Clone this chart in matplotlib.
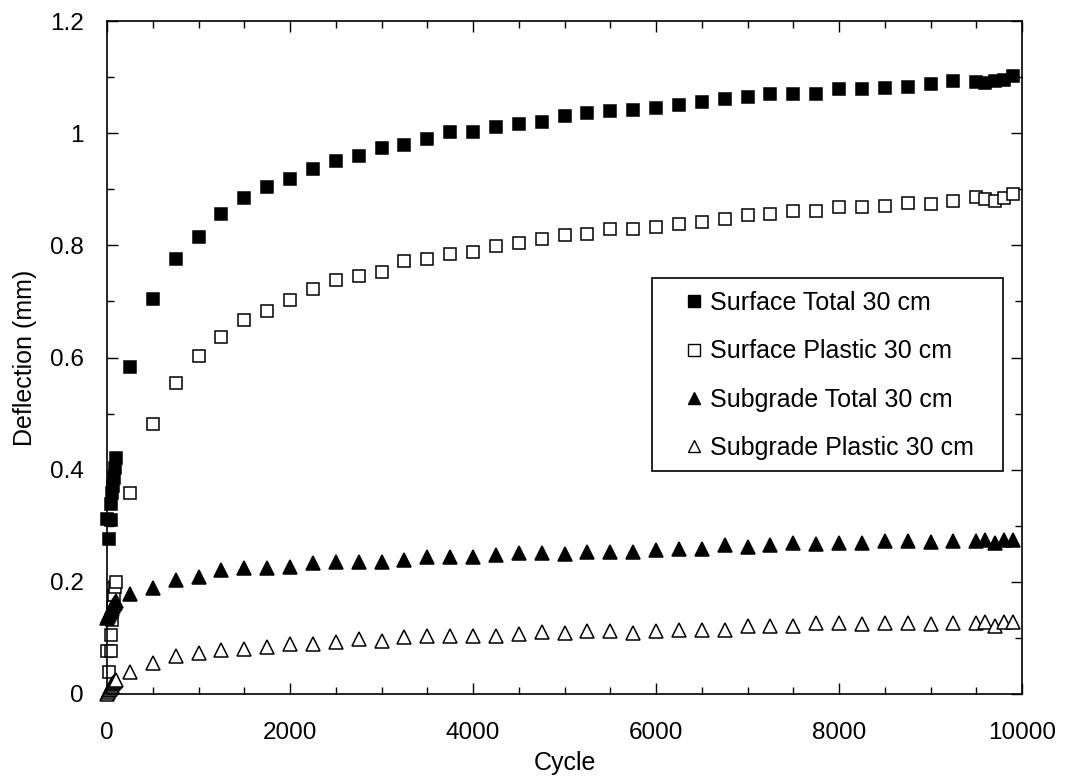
import matplotlib
matplotlib.use("Agg")
import matplotlib.pyplot as plt
from matplotlib.patches import Rectangle
from matplotlib.ticker import MultipleLocator

plt.rcParams['font.family'] = ['Liberation Sans', 'DejaVu Sans']

# ---- data ----
cycles_main = [250, 500, 750, 1000, 1250, 1500, 1750, 2000, 2250, 2500, 2750, 3000,
               3250, 3500, 3750, 4000, 4250, 4500, 4750, 5000, 5250, 5500, 5750, 6000,
               6250, 6500, 6750, 7000, 7250, 7500, 7750, 8000, 8250, 8500, 8750, 9000,
               9250, 9500, 9600, 9700, 9800, 9900]

st_early_cycles = [1, 25, 40, 45, 55, 65, 75, 85, 100]
st_early = [0.312, 0.276, 0.311, 0.339, 0.358, 0.370, 0.385, 0.403, 0.421]
surface_total = [0.583, 0.704, 0.775, 0.815, 0.855, 0.884, 0.904, 0.918, 0.936, 0.950,
                 0.959, 0.973, 0.979, 0.990, 1.002, 1.002, 1.011, 1.017, 1.020, 1.031,
                 1.036, 1.039, 1.042, 1.045, 1.051, 1.056, 1.061, 1.065, 1.070, 1.070,
                 1.070, 1.079, 1.079, 1.080, 1.083, 1.088, 1.093, 1.092, 1.090, 1.093,
                 1.095, 1.102]

sp_early_cycles = [1, 20, 40, 45, 55, 65, 75, 90, 100]
sp_early = [0.077, 0.040, 0.077, 0.105, 0.132, 0.155, 0.177, 0.190, 0.199]
surface_plastic = [0.359, 0.482, 0.554, 0.602, 0.637, 0.666, 0.683, 0.703, 0.723, 0.738,
                   0.746, 0.752, 0.772, 0.775, 0.784, 0.789, 0.798, 0.804, 0.812, 0.818,
                   0.821, 0.830, 0.830, 0.833, 0.838, 0.841, 0.847, 0.854, 0.856, 0.862,
                   0.862, 0.868, 0.868, 0.871, 0.876, 0.873, 0.879, 0.886, 0.882, 0.879,
                   0.884, 0.892]

sub_early_cycles = [1, 10, 20, 30, 40, 50, 60, 70, 80, 90, 100]
sbt_early = [0.136, 0.139, 0.143, 0.146, 0.148, 0.152, 0.155, 0.157, 0.160, 0.163, 0.166]
subgrade_total = [0.179, 0.189, 0.204, 0.209, 0.221, 0.224, 0.224, 0.227, 0.233, 0.236,
                  0.236, 0.236, 0.239, 0.245, 0.245, 0.245, 0.248, 0.251, 0.251, 0.250,
                  0.253, 0.253, 0.253, 0.256, 0.259, 0.259, 0.265, 0.262, 0.265, 0.269,
                  0.268, 0.269, 0.269, 0.272, 0.272, 0.271, 0.273, 0.273, 0.274, 0.270,
                  0.274, 0.275]

sbp_early = [0.000, 0.004, 0.007, 0.009, 0.012, 0.014, 0.017, 0.019, 0.021, 0.023, 0.025]
subgrade_plastic = [0.040, 0.055, 0.067, 0.073, 0.079, 0.080, 0.084, 0.090, 0.089, 0.093,
                    0.098, 0.095, 0.102, 0.104, 0.104, 0.104, 0.104, 0.107, 0.110, 0.109,
                    0.112, 0.112, 0.109, 0.112, 0.115, 0.115, 0.115, 0.121, 0.121, 0.121,
                    0.127, 0.127, 0.124, 0.127, 0.127, 0.124, 0.127, 0.126, 0.129, 0.121,
                    0.129, 0.128]

labels = ["Surface Total 30 cm", "Surface Plastic 30 cm",
          "Subgrade Total 30 cm", "Subgrade Plastic 30 cm"]

# ---- figure ----
fig = plt.figure(figsize=(10.85, 7.78), dpi=100)
ax = fig.add_axes([107/1085, 1 - 694/778, (1022 - 107)/1085, (694 - 21)/778])

series = [
    (st_early_cycles + cycles_main, st_early + surface_total, 's', 'black', 9.3),
    (sp_early_cycles + cycles_main, sp_early + surface_plastic, 's', 'white', 9.0),
    (sub_early_cycles + cycles_main, sbt_early + subgrade_total, '^', 'black', 10.0),
    (sub_early_cycles + cycles_main, sbp_early + subgrade_plastic, '^', 'white', 10.0),
]
handles = []
for (x, y, m, fc, ms), lab in zip(series, labels):
    h, = ax.plot(x, y, linestyle='none', marker=m, markersize=ms,
                 markerfacecolor=fc, markeredgecolor='black', markeredgewidth=1.1,
                 clip_on=False, label=lab)
    handles.append(h)

ax.set_xlim(0, 10000)
ax.set_ylim(0, 1.2)
ax.xaxis.set_major_locator(MultipleLocator(2000))
ax.xaxis.set_minor_locator(MultipleLocator(500))
ax.set_yticks([0, 0.2, 0.4, 0.6, 0.8, 1.0, 1.2])
ax.set_yticklabels(['0', '0.2', '0.4', '0.6', '0.8', '1', '1.2'])
ax.yaxis.set_minor_locator(MultipleLocator(0.1))

ax.tick_params(which='both', direction='in', top=True, right=True,
               width=1.0, labelsize=17.5, colors='black')
ax.tick_params(axis='x', which='major', length=8, pad=20)
ax.tick_params(axis='y', which='major', length=8, pad=17)
ax.tick_params(which='minor', length=5)
for s in ax.spines.values():
    s.set_linewidth(1.2)

ax.set_xlabel('Cycle', fontsize=18, labelpad=5)
ax.set_ylabel('Deflection (mm)', fontsize=18, labelpad=9)

# legend box (drawn manually to match padding)
ax.add_patch(Rectangle((0.5956, 0.3314), 0.9787 - 0.5956, 0.6181 - 0.3314,
                       transform=ax.transAxes, facecolor='white', edgecolor='black',
                       linewidth=1.2, zorder=4))
leg = ax.legend(handles=[plt.Line2D([], [], linestyle='none', marker=h.get_marker(),
                                    markersize=h.get_markersize() * 0.9,
                                    markerfacecolor=h.get_markerfacecolor(),
                                    markeredgecolor='black', markeredgewidth=1.0)
                         for h in handles],
                labels=labels, loc='upper left', bbox_to_anchor=(0.629, 0.5987),
                frameon=False, fontsize=18, handlelength=0.95, handletextpad=0.15,
                labelspacing=0.97, borderpad=0, borderaxespad=0)
leg.set_zorder(5)

fig.savefig('out.png', dpi=100)
